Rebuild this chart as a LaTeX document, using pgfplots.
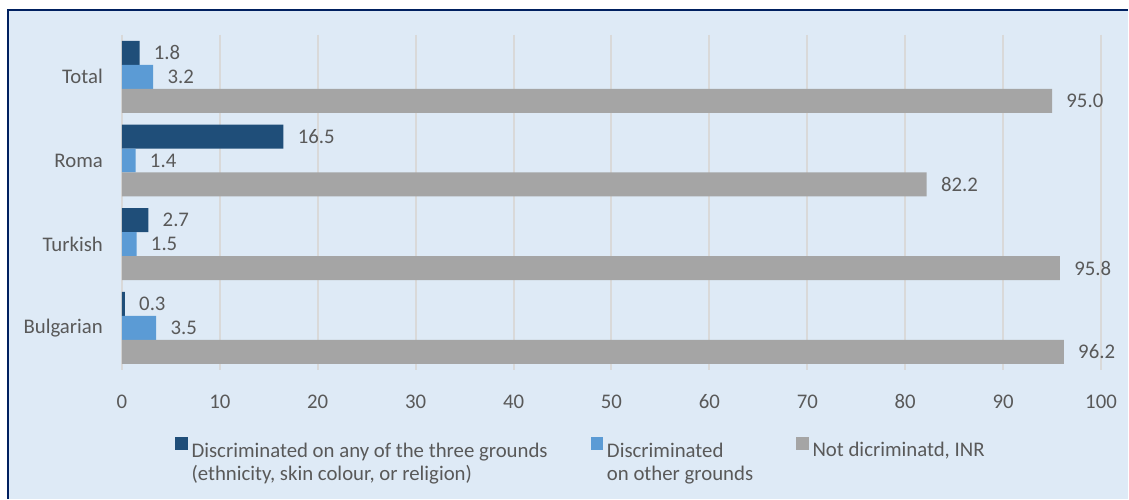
\documentclass[border=0pt]{standalone}
\usepackage{pgfplots}
\pgfplotsset{compat=1.18}
\usepackage{fontspec}
\setmainfont{Carlito}
\definecolor{bgblue}{RGB}{222,234,246}
\definecolor{navy}{RGB}{0,32,96}
\definecolor{cA}{RGB}{31,78,121}
\definecolor{cB}{RGB}{91,155,213}
\definecolor{cC}{RGB}{165,165,165}
\definecolor{txt}{RGB}{89,89,89}
\definecolor{gridc}{RGB}{217,217,217}
\begin{document}
\begin{tikzpicture}[x=0.5pt,y=-0.5pt]
\fill[white] (0,0) rectangle (1129,499);
\fill[bgblue] (8,10) rectangle (1129,499);
\draw[navy, line width=1pt] (8,499) -- (8,10) -- (1129,10);
\begin{axis}[
  at={(61pt,-185pt)}, anchor=south west,
  scale only axis, width=490pt, height=167.5pt,
  xbar, bar width=12pt,
  xmin=0, xmax=100, ymin=-0.5, ymax=3.5, y dir=reverse,
  xtick={0,10,...,100},
  ytick={0,1,2,3}, yticklabels={Total,Roma,Turkish,Bulgarian},
  axis line style={draw=none},
  major tick length=0pt,
  xmajorgrids, major grid style={gridc, line width=1pt},
  tick label style={font=\fontsize{10.4}{12}\selectfont, text=txt},
  /pgf/number format/assume math mode=true,
  xticklabel style={yshift=-9pt},
  yticklabel style={xshift=-6pt},
  nodes near coords,
  nodes near coords style={font=\fontsize{10.4}{12}\selectfont, text=txt, anchor=west, inner sep=0pt, xshift=7pt,
    /pgf/number format/.cd, fixed, fixed zerofill, precision=1, assume math mode=true},
  legend columns=3,
  legend style={at={(0.054,-0.2)}, anchor=north west, draw=none, fill=none, inner sep=0pt,
    font=\fontsize{10.4}{11.5}\selectfont, text=txt,
    /tikz/every even column/.append style={column sep=19.5pt},
    /tikz/every odd column/.append style={column sep=0pt}},
  legend cell align=left,
  legend image code/.code={\fill[#1] (0pt,0.4pt) rectangle (6.2pt,6.6pt);},
]
\addplot[fill=cA, draw=none, bar shift=12pt] coordinates {(1.8,0) (16.5,1) (2.7,2) (0.3,3)};
\addplot[fill=cB, draw=none, bar shift=0pt] coordinates {(3.2,0) (1.4,1) (1.5,2) (3.5,3)};
\addplot[fill=cC, draw=none, bar shift=-12pt] coordinates {(95.0,0) (82.2,1) (95.8,2) (96.2,3)};
\legend{{\begin{tabular}[t]{@{}l@{}}Discriminated on any of the three grounds\\(ethnicity, skin colour, or religion)\end{tabular}},
{\begin{tabular}[t]{@{}l@{}}Discriminated\\on other grounds\end{tabular}},
{Not dicriminatd, INR}}
\end{axis}
\end{tikzpicture}
\end{document}
